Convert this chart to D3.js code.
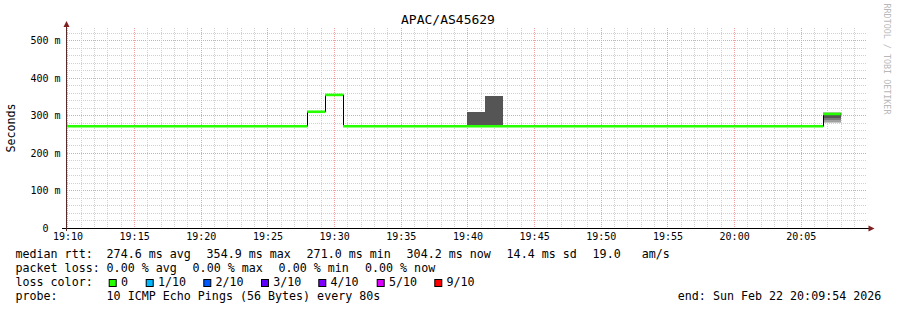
<!DOCTYPE html>
<html><head><meta charset="utf-8">
<script src="https://cdn.jsdelivr.net/npm/d3@7"></script>
<style>
body{margin:0;background:#fff}
svg{display:block}
text{font-family:"DejaVu Sans Mono",monospace;fill:#000}
</style>
</head><body>
<svg id="c" width="897" height="310"></svg>
<script>
// ---------------- data ----------------
const title = "APAC/AS45629";
const yLabel = "Seconds";
const watermark = "RRDTOOL / TOBI OETIKER";
const day = "2026-02-22";
const viewStart = "19:09:58", viewEnd = "20:09:58";
const yTicks = [0, 100, 200, 300, 400, 500];
const yTickLabels = ["0", "100 m", "200 m", "300 m", "400 m", "500 m"];
// median rtt (ms), step series: medianValues[i] holds from medianTimes[i] to medianTimes[i+1]
const medianTimes = ["19:09:20", "19:28:00", "19:29:20", "19:30:40", "20:06:40", "20:08:00"];
const medianValues = [271.5, 310.0, 354.9, 271.5, 304.2];
// smoke: sorted ping rtts (ms) of the samples with visible spread
const smokeStarts = ["19:40:00", "19:41:20", "20:06:40"];
const smokeEnds = ["19:41:20", "19:42:40", "20:08:00"];
const smokePings = [
  [271.0, 271.2, 271.3, 271.4, 271.5, 271.6, 308.5, 308.6, 308.7, 308.8],
  [271.0, 271.2, 271.3, 271.4, 271.5, 271.6, 352.5, 352.6, 352.7, 352.8],
  [279.0, 283.0, 288.0, 294.0, 304.0, 304.4, 306.5, 307.3, 307.8, 308.3]
];
const smokeShades = ["#c8c8c8", "#a0a0a0", "#7a7a7a", "#555555", "#333333"];
const lossLabels = ["0", "1/10", "2/10", "3/10", "4/10", "5/10", "9/10"];
const lossColors = ["#26ff00", "#00b8ff", "#0059ff", "#5e00ff", "#7e00ff", "#dd00ff", "#ff0000"];
const rttHead = "median rtt:";
const rttStats = ["274.6 ms avg", "354.9 ms max", "271.0 ms min", "304.2 ms now", "14.4 ms sd", "19.0   am/s"];
const lossHead = "packet loss:";
const lossStats = ["0.00 % avg", "0.00 % max", "0.00 % min", "0.00 % now"];
const colorHead = "loss color:";
const probeHead = "probe:";
const probeText = "10 ICMP Echo Pings (56 Bytes) every 80s";
const endText = "end: Sun Feb 22 20:09:54 2026";

// ---------------- layout ----------------
const L = 67, R = 867, T = 28, B = 228;
const parse = d3.timeParse("%Y-%m-%d %H:%M:%S");
const t = s => parse(day + " " + s);
const x = d3.scaleTime().domain([t(viewStart), t(viewEnd)]).range([L, R]);
const y = d3.scaleLinear().domain([0, 533.33]).range([B, T]);
const svg = d3.select("#c");
svg.append("rect").attr("width", 897).attr("height", 310).attr("fill", "#fff");

const defs = svg.append("defs");
defs.append("clipPath").attr("id", "plot").append("rect")
  .attr("x", L).attr("y", T).attr("width", R - L).attr("height", B - T);

// grid
const grid = svg.append("g");
const px = v => Math.round(v) + 0.5;
d3.range(20, 533, 20).forEach(v => {
  const major = v % 100 === 0;
  grid.append("line").attr("x1", L).attr("x2", R).attr("y1", px(y(v))).attr("y2", px(y(v)))
    .attr("stroke", major ? "#f0a0a0" : "#d0d0d0").attr("stroke-dasharray", "1,1");
});
d3.timeMinute.range(t("19:10:00"), t(viewEnd)).forEach(d => {
  const major = d.getMinutes() % 5 === 0;
  grid.append("line").attr("x1", px(x(d))).attr("x2", px(x(d))).attr("y1", T).attr("y2", B)
    .attr("stroke", major ? "#f0a0a0" : "#d0d0d0").attr("stroke-dasharray", "1,1");
});

const plot = svg.append("g").attr("clip-path", "url(#plot)");
// smoke
smokePings.forEach((p, j) => {
  const x0 = x(t(smokeStarts[j])), x1 = x(t(smokeEnds[j]));
  for (let i = 0; i < 5; i++) {
    const hi = p[9 - i], lo = p[i];
    if (hi - lo <= 0) continue;
    plot.append("rect").attr("x", x0).attr("width", x1 - x0)
      .attr("y", y(hi)).attr("height", y(lo) - y(hi))
      .attr("fill", smokeShades[i]).attr("shape-rendering", "crispEdges");
  }
});
// median: black step connector then green segments
const pts = medianValues.map((v, i) => [t(medianTimes[i]), v]);
pts.push([t(medianTimes[medianTimes.length - 1]), medianValues[medianValues.length - 1]]);
plot.append("path")
  .attr("d", d3.line().x(d => px(x(d[0]))).y(d => y(d[1])).curve(d3.curveStepAfter)(pts))
  .attr("fill", "none").attr("stroke", "#000").attr("stroke-width", 1);
medianValues.forEach((v, i) => {
  plot.append("line")
    .attr("x1", x(t(medianTimes[i]))).attr("x2", x(t(medianTimes[i + 1])))
    .attr("y1", y(v)).attr("y2", y(v))
    .attr("stroke", lossColors[0]).attr("stroke-width", 2.6);
});

// axes (labels)
const xa = svg.append("g").attr("transform", `translate(0,${B})`)
  .call(d3.axisBottom(x).ticks(d3.timeMinute.every(5)).tickFormat(d3.timeFormat("%H:%M")).tickSize(0).tickPadding(5));
xa.select(".domain").remove();
xa.selectAll("text").attr("font-family", "DejaVu Sans Mono").attr("font-size", 10).attr("fill", "#000");
const ya = svg.append("g").attr("transform", `translate(${L},0)`)
  .call(d3.axisLeft(y).tickValues(yTicks).tickFormat((d, i) => yTickLabels[i]).tickSize(0).tickPadding(6.5));
ya.select(".domain").remove();
ya.selectAll("text").attr("font-family", "DejaVu Sans Mono").attr("font-size", 10).attr("fill", "#000");
// rrdtool pads the unitless zero label: shift it by the two missing unit columns
ya.selectAll(".tick").filter(d => d === 0).select("text").attr("dx", -12.04);

// axis lines + arrows
svg.append("line").attr("x1", 62).attr("x2", 870).attr("y1", B + 0.5).attr("y2", B + 0.5).attr("stroke", "#000");
svg.append("line").attr("x1", 66.5).attr("x2", 66.5).attr("y1", B + 3).attr("y2", 25).attr("stroke", "#5a2a2a");
svg.append("path").attr("d", "M66.5,21 L63.5,27 L69.5,27 Z").attr("fill", "#7f1f1f");
svg.append("path").attr("d", "M874.5,228.5 L868.5,225.5 L868.5,231.5 Z").attr("fill", "#7f1f1f");

// title, labels
svg.append("text").attr("x", 448).attr("y", 24).attr("text-anchor", "middle")
  .attr("font-size", 13).text(title);
svg.append("text").attr("transform", "translate(15.3,128) rotate(-90)").attr("text-anchor", "middle")
  .attr("font-size", 11.67).text(yLabel);
svg.append("text").attr("transform", "translate(884,59) rotate(90)").attr("text-anchor", "middle")
  .attr("font-size", 8.4).style("fill", "#b8b8b8").text(watermark);

// legend
const fs = 11.67;
const leg = svg.append("g").attr("font-size", fs).style("white-space", "pre");
leg.append("text").attr("x", 15.5).attr("y", 258).text(rttHead);
const rttX = [106.6, 206.6, 306.6, 406.6, 506.6, 592.6];
rttStats.forEach((s, i) => leg.append("text").attr("x", rttX[i]).attr("y", 258).attr("xml:space", "preserve").text(s));
leg.append("text").attr("x", 15.5).attr("y", 272).text(lossHead);
const lossX = [106.6, 192.6, 278.6, 365];
lossStats.forEach((s, i) => leg.append("text").attr("x", lossX[i]).attr("y", 272).text(s));
leg.append("text").attr("x", 15.5).attr("y", 286).text(colorHead);
const sqX = [108.7, 145.7, 203.3, 261, 318.3, 376.7, 434.3];
lossLabels.forEach((s, i) => {
  leg.append("rect").attr("x", sqX[i] + 0.5).attr("y", 279.5).attr("width", 7).attr("height", 7)
    .attr("fill", lossColors[i]).attr("stroke", "#000").attr("stroke-width", 1);
  leg.append("text").attr("x", sqX[i] + 12.2).attr("y", 286).text(s);
});
leg.append("text").attr("x", 15.5).attr("y", 300).text(probeHead);
leg.append("text").attr("x", 106.6).attr("y", 300).text(probeText);
leg.append("text").attr("x", 677.8).attr("y", 300).text(endText);
</script>
</body></html>
